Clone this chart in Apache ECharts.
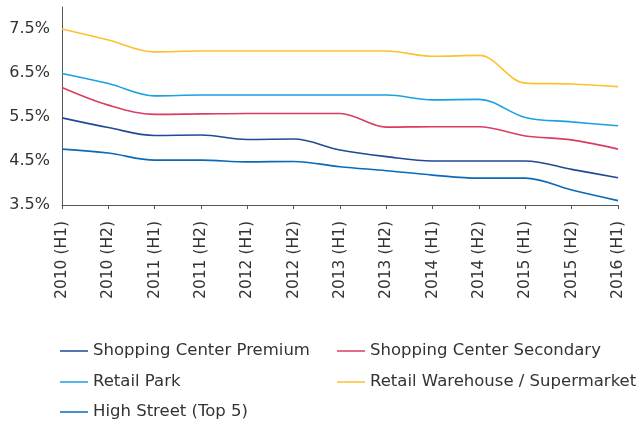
<!DOCTYPE html>
<html>
<head>
<meta charset="utf-8">
<script src="https://cdn.jsdelivr.net/npm/echarts@6/dist/echarts.min.js"></script>
<style>
  html, body { margin: 0; padding: 0; background: #fff; }
  #chart { width: 641px; height: 425px; }
</style>
</head>
<body>
<div id="chart"></div>
<script>
var periods = ["2010 (H1)", "2010 (H2)", "2011 (H1)", "2011 (H2)", "2012 (H1)", "2012 (H2)",
  "2013 (H1)", "2013 (H2)", "2014 (H1)", "2014 (H2)", "2015 (H1)", "2015 (H2)", "2016 (H1)"];

var scPremium = [5.48, 5.26, 5.08, 5.09, 4.99, 5.0, 4.75, 4.6, 4.5, 4.5, 4.5, 4.31, 4.12];
var scSecondary = [6.17, 5.77, 5.56, 5.57, 5.58, 5.58, 5.58, 5.27, 5.28, 5.28, 5.07, 4.98, 4.77];
var retailPark = [6.49, 6.26, 5.98, 6.0, 6.0, 6.0, 6.0, 6.0, 5.89, 5.9, 5.49, 5.39, 5.3];
var retailWarehouse = [7.5, 7.25, 6.98, 7.0, 7.0, 7.0, 7.0, 7.0, 6.88, 6.9, 6.27, 6.25, 6.19];
var highStreet = [4.77, 4.68, 4.52, 4.52, 4.48, 4.49, 4.37, 4.28, 4.18, 4.11, 4.11, 3.84, 3.6];

var myChart = echarts.init(document.getElementById("chart"));

function line(name, data, color) {
  return {
    name: name,
    type: "line",
    data: data,
    smooth: 0.35,
    showSymbol: false,
    symbol: "none",
    lineStyle: { width: 1.6, color: color },
    itemStyle: { color: color }
  };
}

// one legend per item so the two-column layout is fixed
function legendItem(name, left, top) {
  return {
    left: left,
    top: top,
    icon: "rect",
    itemWidth: 28,
    itemHeight: 1.5,
    padding: 0,
    textStyle: { fontFamily: "DejaVu Sans", fontSize: 16.5, color: "#333", lineHeight: 20 },
    data: [name]
  };
}

var option = {
  animation: false,
  textStyle: { fontFamily: "DejaVu Sans" },
  grid: { left: 62, right: 23, top: 7, bottom: 220 },
  legend: [
    legendItem("Shopping Center Premium", 60, 341),
    legendItem("Shopping Center Secondary", 337, 341),
    legendItem("Retail Park", 60, 372),
    legendItem("Retail Warehouse / Supermarket", 337, 372),
    legendItem("High Street (Top 5)", 60, 402)
  ],
  xAxis: {
    type: "category",
    boundaryGap: false,
    data: periods,
    axisLine: { lineStyle: { color: "#555", width: 1 } },
    axisTick: { show: true, length: 4, alignWithLabel: true, lineStyle: { color: "#555" } },
    axisLabel: {
      rotate: 90,
      interval: 0,
      margin: 16,
      fontSize: 15.5,
      color: "#333",
      fontFamily: "DejaVu Sans"
    }
  },
  yAxis: {
    type: "value",
    min: 3.5,
    max: 8.0,
    interval: 1,
    splitLine: { show: false },
    axisLine: { show: true, lineStyle: { color: "#555", width: 1 } },
    axisTick: { show: false },
    axisLabel: {
      showMaxLabel: false,
      fontSize: 16,
      color: "#333",
      margin: 12,
      fontFamily: "DejaVu Sans",
      formatter: function (v) {
        if (v > 7.9) return "";
        return v.toFixed(1) + "%";
      }
    }
  },
  series: [
    line("Shopping Center Premium", scPremium, "#1f4a95"),
    line("Shopping Center Secondary", scSecondary, "#dc3b62"),
    line("Retail Park", retailPark, "#1ba1e2"),
    line("Retail Warehouse / Supermarket", retailWarehouse, "#fdc12f"),
    line("High Street (Top 5)", highStreet, "#0a6ab8")
  ]
};

myChart.setOption(option);
</script>
</body>
</html>
